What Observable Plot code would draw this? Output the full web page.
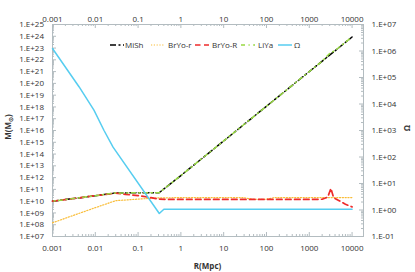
<!DOCTYPE html>
<html><head><meta charset="utf-8">
<script src="https://cdn.jsdelivr.net/npm/d3@7"></script>
<script src="https://cdn.jsdelivr.net/npm/@observablehq/plot@0.6"></script>
<style>body{margin:0;background:#fff} svg{font-family:"Open Sans",sans-serif}</style>
</head><body><div id="chart"></div>
<script>
// ---- axis ticks / labels ----
const rTicks = [0.001, 0.01, 0.1, 1, 10, 100, 1000, 10000];
const rTickLabels = ["0.001", "0.01", "0.1", "1", "10", "100", "1000", "10000"];
const mExps = [7,8,9,10,11,12,13,14,15,16,17,18,19,20,21,22,23,24,25];
const mTickLabels = mExps.map(e => "1.E+" + String(e).padStart(2, "0"));
const omegaExps = [-1,0,1,2,3,4,5,6,7];
const omegaTickLabels = ["1.E-01","1.E+00","1.E+01","1.E+02","1.E+03","1.E+04","1.E+05","1.E+06","1.E+07"];

// ---- series ----
const mishR = [0.001, 0.003, 0.01, 0.03, 0.1, 0.31, 1, 10, 100, 1000, 10000];
const mishM = [1e10, 1.65e10, 2.9e10, 5e10, 5.1e10, 5.2e10, 1.5e12, 1.3e15, 1.15e18, 1e21, 8.7e23];

const bryoR_r = [0.001, 0.003, 0.01, 0.03, 0.1, 0.3, 1, 10, 30, 45, 100, 150, 1000, 10000];
const bryoR_m = [1.45e8, 6e8, 2.8e9, 1.1e10, 1.5e10, 1.9e10, 2e10, 2e10, 2e10, 1.45e10, 1.45e10, 2e10, 2e10, 2e10];

const bryoBigR = [0.001, 0.003, 0.01, 0.03, 0.05, 0.1, 0.2, 0.3, 0.5, 10, 100, 1000, 2000, 2700, 3200, 3700, 5000, 7000, 10000];
const bryoBigM = [1e10, 1.65e10, 2.9e10, 4.8e10, 3.8e10, 3e10, 2e10, 1.5e10, 1.4e10, 1.4e10, 1.4e10, 1.4e10, 1.45e10, 2.2e10, 1.2e11, 2.0e10, 1.1e10, 5.5e9, 3.3e9];

const liyaR = [0.001, 0.003, 0.01, 0.03, 0.1, 0.31, 1, 10, 100, 1000, 2000, 3000, 4000, 10000];
const liyaM = [1e10, 1.65e10, 2.9e10, 5e10, 5.1e10, 5.2e10, 1.5e12, 1.3e15, 1.15e18, 1e21, 7.7e21, 3.5e22, 6.2e22, 8.7e23];

const omegaR = [0.001, 0.0042, 0.0093, 0.016, 0.026, 0.313, 0.4, 1, 10, 100, 1000, 10000];
const omegaV = [1.24e6, 4.4e4, 5.9e3, 1.0e3, 235, 0.74, 1.07, 1.07, 1.07, 1.07, 1.07, 1.07];

// ---- layout ----
const W = 415, H = 272, mL = 52, mR = 52, mT = 24, mB = 36;
const plotW = W - mL - mR, plotH = H - mT - mB;
const axisColor = "#b3bcc0";
const textColor = "#333";

// secondary (Ω) axis mapped onto the primary M axis: 1e-1..1e7  <->  1e7..1e25
function omegaToM(o) { return Math.pow(10, 7 + (Math.log10(o) + 1) * 2.25); }

const zip = (xs, ys, k) => xs.map((x, i) => ({r: x, [k]: ys[i]}));
const mish = zip(mishR, mishM, "m");
const bryo_r = zip(bryoR_r, bryoR_m, "m");
const bryo_R = zip(bryoBigR, bryoBigM, "m");
const liya = zip(liyaR, liyaM, "m");
const omega = zip(omegaR, omegaV, "o");

const mTicks = mExps.map(e => Math.pow(10, e));
const mMinor = [];
for (let e = 7; e < 25; e++) for (let j = 2; j <= 9; j++) mMinor.push(j * Math.pow(10, e));
const rMinor = [];
for (let e = -3; e < 4; e++) for (let j = 2; j <= 9; j++) rMinor.push(j * Math.pow(10, e));
const oTicks = omegaExps.map(e => omegaToM(Math.pow(10, e)));
const oMinor = [];
for (let e = -1; e < 7; e++) for (let j = 2; j <= 9; j++) oMinor.push(omegaToM(j * Math.pow(10, e)));

const colors = {mish: "#000000", bryo_r: "#f9bd38", bryo_R: "#ee2b2b", liya: "#98d943", omega: "#56cdf0"};
const styles = {
  mish: {stroke: colors.mish, strokeWidth: 1.5, strokeDasharray: "6,2.5,2,2.5"},
  bryo_r: {stroke: colors.bryo_r, strokeWidth: 1.2, strokeDasharray: "1.2,1.6"},
  bryo_R: {stroke: colors.bryo_R, strokeWidth: 1.7, strokeDasharray: "5.5,3.5"},
  liya: {stroke: colors.liya, strokeWidth: 1.5, strokeDasharray: "4,3.5,1.2,3.5", strokeDashoffset: 6},
  omega: {stroke: colors.omega, strokeWidth: 1.5}
};

const fmt = (arr, labels) => d => labels[arr.indexOf(d)];

const chart = Plot.plot({
  width: W, height: H,
  marginLeft: mL, marginRight: mR, marginTop: mT, marginBottom: mB,
  style: {fontSize: "8px", fontFamily: "Open Sans, sans-serif", color: textColor, background: "#fff"},
  x: {type: "log", domain: [0.001, 18500]},
  y: {type: "log", domain: [1e7, 1e25]},
  marks: [
    Plot.frame({stroke: axisColor}),
    // inward ticks
    Plot.tickY(mTicks, {y: d => d, stroke: axisColor, insetRight: plotW - 4}),
    Plot.tickY(mMinor, {y: d => d, stroke: axisColor, insetRight: plotW - 2}),
    Plot.tickY(oTicks, {y: d => d, stroke: axisColor, insetLeft: plotW - 4}),
    Plot.tickY(oMinor, {y: d => d, stroke: axisColor, insetLeft: plotW - 2}),
    Plot.tickX(rTicks, {x: d => d, stroke: axisColor, insetBottom: plotH - 4}),
    Plot.tickX(rMinor, {x: d => d, stroke: axisColor, insetBottom: plotH - 2}),
    Plot.tickX(rTicks, {x: d => d, stroke: axisColor, insetTop: plotH - 4}),
    Plot.tickX(rMinor, {x: d => d, stroke: axisColor, insetTop: plotH - 2}),
    // tick labels
    Plot.axisX({anchor: "top", ticks: rTicks, tickFormat: fmt(rTicks, rTickLabels), tickSize: 0, tickPadding: 3, label: null, fill: textColor}),
    Plot.axisX({anchor: "bottom", ticks: rTicks, tickFormat: fmt(rTicks, rTickLabels), tickSize: 0, tickPadding: 9, label: null, fill: textColor}),
    Plot.axisY({anchor: "left", ticks: mTicks, tickFormat: fmt(mTicks, mTickLabels), tickSize: 0, tickPadding: 8.5, label: null, fill: textColor}),
    Plot.axisY({anchor: "right", ticks: oTicks, tickFormat: fmt(oTicks, omegaTickLabels), tickSize: 0, tickPadding: 8, label: null, fill: textColor}),
    // series
    Plot.line(mish, {x: "r", y: "m", ...styles.mish}),
    Plot.line(bryo_r, {x: "r", y: "m", ...styles.bryo_r}),
    Plot.line(bryo_R, {x: "r", y: "m", ...styles.bryo_R}),
    Plot.line(liya, {x: "r", y: "m", ...styles.liya}),
    Plot.line(omega, {x: "r", y: d => omegaToM(d.o), ...styles.omega})
  ]
});
document.getElementById("chart").appendChild(chart);

// ---- titles and legend ----
const svg = d3.select(chart);
const lt = svg.append("text").attr("transform", "translate(11,127) rotate(-90)")
  .attr("text-anchor", "middle").attr("font-weight", "bold").attr("font-size", 8).attr("fill", textColor);
lt.append("tspan").text("M(M");
lt.append("tspan").attr("font-size", 6).attr("dy", 2).text("⊙");
lt.append("tspan").attr("dy", -2).text(")");

svg.append("text").attr("transform", "translate(410,128) rotate(-90)")
  .attr("text-anchor", "middle").attr("font-weight", "bold").attr("font-size", 8).attr("fill", textColor).text("Ω");

svg.append("text").attr("x", (mL + W - mR) / 2).attr("y", 269)
  .attr("text-anchor", "middle").attr("font-weight", "bold").attr("font-size", 8).attr("fill", textColor).text("R(Mpc)");

const legendItems = [
  {key: "mish", label: "MiSh", x0: 110, x1: 124, tx: 125},
  {key: "bryo_r", label: "BrYo-r", x0: 151, x1: 165, tx: 168},
  {key: "bryo_R", label: "BrYo-R", x0: 195, x1: 209, tx: 212},
  {key: "liya", label: "LiYa", x0: 241, x1: 255, tx: 258},
  {key: "omega", label: "Ω", x0: 278, x1: 292, tx: 294}
];
const ly = 45;
const lg = svg.append("g").attr("text-anchor", "start");
for (const it of legendItems) {
  const s = styles[it.key];
  lg.append("line").attr("x1", it.x0).attr("x2", it.x1).attr("y1", ly).attr("y2", ly)
    .attr("stroke", s.stroke).attr("stroke-width", s.strokeWidth)
    .attr("stroke-dasharray", s.strokeDasharray || null);
  lg.append("text").attr("x", it.tx).attr("y", ly).attr("dy", "0.35em").attr("text-anchor", "start")
    .attr("font-size", 8).attr("fill", textColor).text(it.label);
}
</script>
</body></html>
